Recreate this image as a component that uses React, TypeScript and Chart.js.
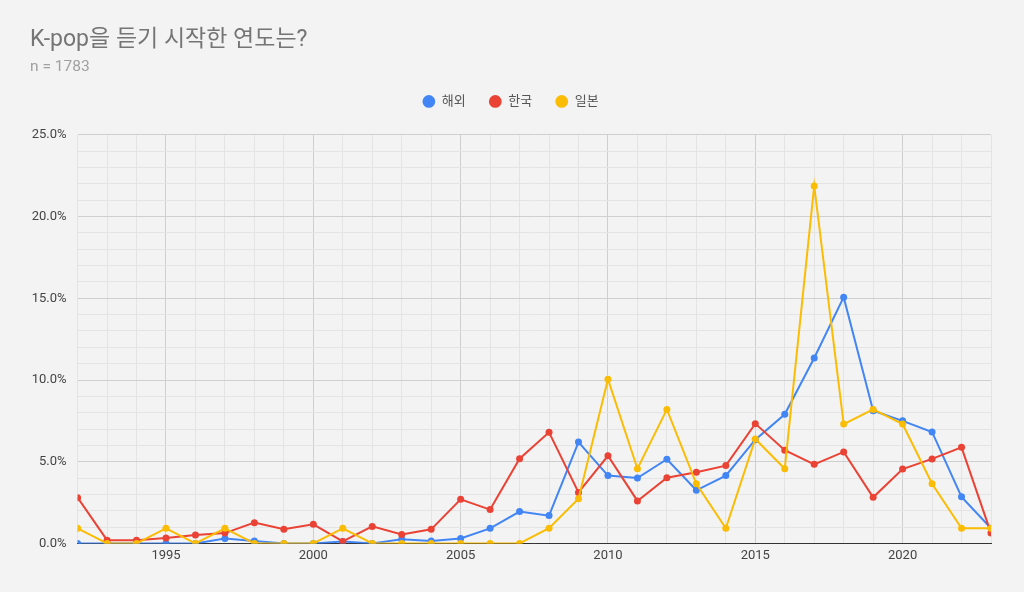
import { useEffect, useRef } from 'react';
import { Chart, registerables } from 'chart.js';

Chart.register(...registerables);

const years = [
  1992, 1993, 1994, 1995, 1996, 1997, 1998, 1999, 2000, 2001, 2002, 2003, 2004, 2005, 2006, 2007,
  2008, 2009, 2010, 2011, 2012, 2013, 2014, 2015, 2016, 2017, 2018, 2019, 2020, 2021, 2022, 2023,
];
const overseas = [
  0, 0, 0, 0, 0, 0.3, 0.15, 0, 0, 0.12, 0, 0.26, 0.15, 0.3, 0.92, 1.95,
  1.7, 6.2, 4.15, 4.0, 5.15, 3.25, 4.15, 6.35, 7.9, 11.35, 15.07, 8.12, 7.5, 6.82, 2.85, 0.93,
];
const korea = [
  2.8, 0.2, 0.2, 0.33, 0.52, 0.63, 1.27, 0.86, 1.17, 0.12, 1.04, 0.55, 0.86, 2.7, 2.07, 5.18,
  6.8, 3.12, 5.36, 2.6, 4.02, 4.35, 4.76, 7.33, 5.7, 4.84, 5.6, 2.82, 4.55, 5.17, 5.88, 0.63,
];
const japan = [
  0.92, 0, 0, 0.92, 0, 0.92, 0, 0, 0, 0.92, 0, 0, 0, 0, 0, 0,
  0.93, 2.74, 10.05, 4.57, 8.2, 3.65, 0.93, 6.39, 4.57, 21.88, 7.3, 8.2, 7.3, 3.65, 0.93, 0.93,
];
const seriesNames = ['해외', '한국', '일본'];

const FONT = "Roboto, 'Noto Sans CJK KR', sans-serif";

// pushes the plot down a bit below the legend
const legendGap = {
  id: 'legendGap',
  beforeInit(chart: any) {
    if (!chart.legend) return;
    const fit = chart.legend.fit;
    chart.legend.fit = function () {
      fit.bind(chart.legend)();
      this.height += 17;
    };
  },
};

export default function App() {
  const canvasRef = useRef<HTMLCanvasElement>(null);

  useEffect(() => {
    document.body.style.margin = '0';
    if (!canvasRef.current) return;
    const ctx = canvasRef.current.getContext('2d');
    if (!ctx) return;

    const mk = (label: string, vals: number[], color: string, order: number) => ({
      label,
      data: years.map((y, i) => ({ x: y, y: vals[i] })),
      borderColor: color,
      backgroundColor: color,
      borderWidth: 2,
      pointRadius: 3.5,
      pointBorderWidth: 0,
      tension: 0,
      order,
    });

    const chart = new Chart(ctx, {
      type: 'line',
      data: {
        datasets: [
          mk(seriesNames[0], overseas, '#4285f4', 2),
          mk(seriesNames[1], korea, '#ea4335', 1),
          mk(seriesNames[2], japan, '#fbbc04', 0),
        ],
      },
      plugins: [legendGap],
      options: {
        animation: false,
        responsive: true,
        maintainAspectRatio: false,
        layout: { padding: { left: 30, right: 33, top: 0, bottom: 23 } },
        plugins: {
          title: {
            display: true,
            text: 'K-pop을 듣기 시작한 연도는?',
            align: 'start',
            color: '#757575',
            font: { family: FONT, size: 23, weight: 'normal', lineHeight: 1.2 },
            padding: { top: 26, bottom: 9 },
          },
          subtitle: {
            display: true,
            text: 'n = 1783',
            align: 'start',
            color: '#a0a0a0',
            font: { family: FONT, size: 15.5, weight: 'normal', lineHeight: 0.6 },
            padding: { top: 0, bottom: 0 },
          },
          legend: {
            display: true,
            position: 'top',
            labels: {
              usePointStyle: true,
              pointStyle: 'circle',
              boxWidth: 17,
              boxHeight: 9,
              padding: 23,
              color: '#555555',
              font: { family: FONT, size: 13 },
              sort: (a: any, b: any) => a.datasetIndex - b.datasetIndex,
            },
          },
          tooltip: { enabled: false },
        },
        scales: {
          x: {
            type: 'linear',
            min: 1992,
            max: 2023,
            ticks: {
              stepSize: 1,
              autoSkip: false,
              maxRotation: 0,
              padding: 5,
              color: '#444444',
              font: { family: FONT, size: 13 },
              callback: (v: any) => (Number(v) % 5 === 0 ? String(v) : ''),
            },
            grid: {
              drawTicks: false,
              color: (c: any) => (c.tick && c.tick.value % 5 === 0 ? '#cfcfcf' : '#e4e4e4'),
            },
            border: { display: true, color: '#333333', width: 1 },
          },
          y: {
            min: 0,
            max: 25,
            afterFit: (scale: any) => {
              scale.width = 47.6;
            },
            ticks: {
              stepSize: 1,
              autoSkip: false,
              padding: 11,
              color: '#444444',
              font: { family: FONT, size: 13 },
              callback: (v: any) => (Number(v) % 5 === 0 ? Number(v).toFixed(1) + '%' : ''),
            },
            grid: {
              drawTicks: false,
              color: (c: any) => {
                const v = c.tick ? c.tick.value : 0;
                if (v === 0) return '#333333';
                return v % 5 === 0 ? '#cfcfcf' : '#e4e4e4';
              },
            },
            border: { display: false },
          },
        },
      },
    });

    return () => chart.destroy();
  }, []);

  return (
    <div style={{ width: 1024, height: 592, background: '#f3f3f3', position: 'relative' }}>
      <canvas ref={canvasRef} />
    </div>
  );
}
